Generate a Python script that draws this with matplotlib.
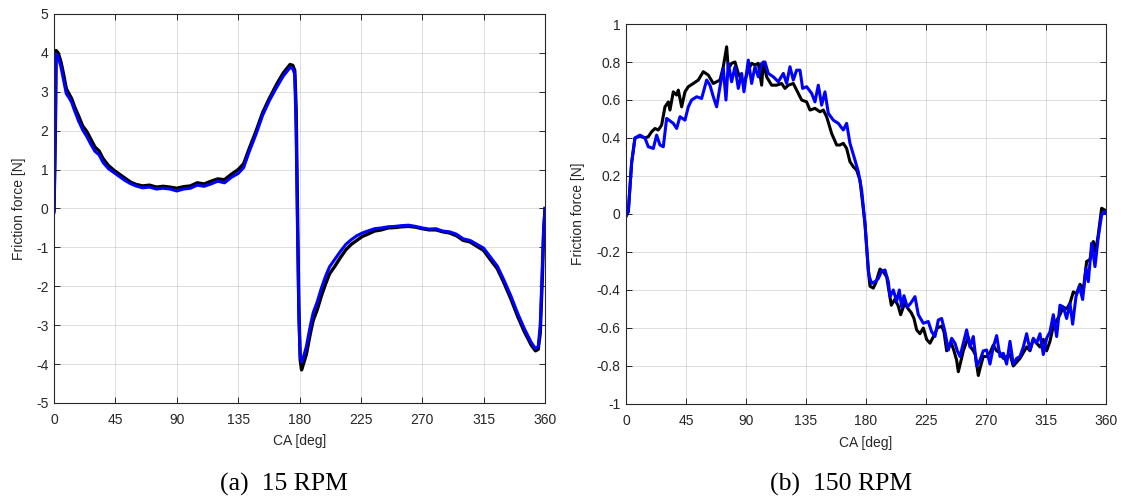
import numpy as np
import matplotlib
matplotlib.use("Agg")
import matplotlib.pyplot as plt

plt.rcParams["font.family"] = ["Liberation Sans", "DejaVu Sans"]
plt.rcParams["axes.unicode_minus"] = False

# ---- data: (crank angle [deg], friction force [N]) ----
blue_15 = np.array([
    (0, -0.1), (1, 2.0), (1.5, 3.97), (3, 3.9), (5, 3.65), (7, 3.3), (9, 2.95),
    (11, 2.85), (13, 2.72), (15, 2.52), (18, 2.25), (21, 2.02), (24, 1.85),
    (27, 1.65), (30, 1.47), (33, 1.38), (36, 1.18), (40, 1.02), (44, 0.92),
    (48, 0.82), (52, 0.72), (56, 0.64), (60, 0.58), (65, 0.53), (70, 0.55),
    (75, 0.5), (80, 0.52), (85, 0.5), (90, 0.45), (95, 0.5), (100, 0.52),
    (105, 0.6), (110, 0.57), (115, 0.63), (120, 0.7), (125, 0.66), (130, 0.8),
    (135, 0.9), (139, 1.05), (143, 1.45), (148, 1.9), (153, 2.4), (158, 2.78),
    (163, 3.1), (168, 3.4), (173, 3.62), (175, 3.6), (176.5, 3.45),
    (177.5, 2.0), (178.5, -0.5), (179.5, -2.8), (180.5, -3.8), (181.5, -3.95),
    (183, -3.8), (185, -3.55), (188, -3.0), (190, -2.68), (193, -2.4),
    (196, -2.05), (199, -1.75), (202, -1.5), (206, -1.3), (210, -1.1),
    (214, -0.92), (218, -0.8), (222, -0.7), (226, -0.63), (230, -0.58),
    (235, -0.52), (240, -0.5), (245, -0.47), (250, -0.46), (255, -0.44),
    (260, -0.43), (265, -0.46), (270, -0.5), (275, -0.53), (280, -0.52),
    (285, -0.58), (290, -0.6), (295, -0.66), (300, -0.78), (305, -0.82),
    (310, -0.92), (315, -1.02), (320, -1.25), (325, -1.48), (330, -1.85),
    (335, -2.25), (340, -2.7), (345, -3.1), (350, -3.45), (353, -3.6),
    (355, -3.55), (356.5, -3.0), (358, -1.5), (359, -0.5), (360, 0.0),
])

black_15 = np.array([
    (0, -0.05), (1, 2.1), (1.5, 4.06), (3, 4.0), (5, 3.78), (7, 3.45), (9, 3.08),
    (11, 2.95), (13, 2.82), (15, 2.62), (18, 2.38), (21, 2.12), (24, 1.98),
    (27, 1.78), (30, 1.58), (33, 1.48), (36, 1.28), (40, 1.1), (44, 0.98),
    (48, 0.88), (52, 0.78), (56, 0.68), (60, 0.62), (65, 0.58), (70, 0.6),
    (75, 0.55), (80, 0.57), (85, 0.55), (90, 0.52), (95, 0.56), (100, 0.58),
    (105, 0.66), (110, 0.63), (115, 0.7), (120, 0.76), (125, 0.74), (130, 0.88),
    (135, 1.0), (139, 1.15), (143, 1.53), (148, 1.98), (153, 2.47), (158, 2.84),
    (163, 3.18), (168, 3.48), (173, 3.7), (175, 3.68), (176.5, 3.55),
    (177.5, 2.6), (178.5, 0.0), (179.5, -2.5), (180.5, -3.9), (181.5, -4.15),
    (183, -3.98), (185, -3.75), (188, -3.2), (190, -2.88), (193, -2.6),
    (196, -2.25), (199, -1.95), (202, -1.68), (206, -1.48), (210, -1.26),
    (214, -1.06), (218, -0.92), (222, -0.82), (226, -0.72), (230, -0.66),
    (235, -0.58), (240, -0.55), (245, -0.5), (250, -0.49), (255, -0.47),
    (260, -0.46), (265, -0.48), (270, -0.52), (275, -0.55), (280, -0.55),
    (285, -0.6), (290, -0.63), (295, -0.7), (300, -0.82), (305, -0.86),
    (310, -0.97), (315, -1.08), (320, -1.32), (325, -1.55), (330, -1.92),
    (335, -2.33), (340, -2.78), (345, -3.18), (350, -3.52), (353, -3.66),
    (355, -3.62), (356.5, -3.2), (358, -1.8), (359, -0.6), (360, 0.0),
])

blue_150 = np.array([
    (0, -0.01), (1.75, 0.012), (4.25, 0.27), (6.75, 0.40), (10.5, 0.415),
    (14.25, 0.40), (16.75, 0.354), (20.5, 0.345), (23, 0.415), (25.5, 0.363),
    (28, 0.354), (30.5, 0.503), (35.5, 0.477), (38, 0.45), (40.5, 0.512),
    (44.25, 0.494), (46.75, 0.564), (49.25, 0.60), (53, 0.617), (56.75, 0.608),
    (60.5, 0.705), (63, 0.678), (65.5, 0.617), (68, 0.564), (70.5, 0.67),
    (73, 0.766), (75, 0.60), (76.75, 0.793), (79.25, 0.696), (81.75, 0.775),
    (84.25, 0.661), (86.75, 0.74), (88.5, 0.643), (91.75, 0.81), (94.25, 0.687),
    (96.75, 0.775), (99.25, 0.722), (101.75, 0.793), (104.25, 0.80),
    (106.75, 0.74), (110.5, 0.722), (114.25, 0.696), (118, 0.74),
    (120.5, 0.687), (123, 0.775), (125.5, 0.705), (128, 0.757), (130.5, 0.757),
    (132.5, 0.661), (135.5, 0.67), (139.25, 0.635), (141.75, 0.59),
    (144.25, 0.678), (146.75, 0.573), (149.25, 0.643), (151.75, 0.53),
    (155.5, 0.494), (159.25, 0.477), (163, 0.442), (165.5, 0.477), (168, 0.372),
    (171.75, 0.284), (174.25, 0.222), (176.75, 0.126), (179.25, -0.05),
    (181.75, -0.295), (182.5, -0.33), (184.25, -0.365), (186.75, -0.356),
    (189.25, -0.34), (191.75, -0.30), (194.25, -0.295), (196.75, -0.356),
    (198, -0.435), (200.5, -0.40), (203, -0.46), (205, -0.40), (206.75, -0.49),
    (208.5, -0.43), (211, -0.49), (213.5, -0.47), (216.75, -0.435),
    (219.25, -0.53), (223, -0.575), (226.75, -0.566), (229.25, -0.62),
    (231.75, -0.645), (234.25, -0.558), (236.75, -0.55), (239.25, -0.62),
    (241.75, -0.716), (244.25, -0.654), (246.75, -0.68), (248.5, -0.72),
    (250.5, -0.75), (253, -0.68), (255.5, -0.61), (258, -0.70), (260.5, -0.645),
    (263, -0.80), (265.5, -0.77), (268, -0.72), (270.5, -0.716), (273, -0.79),
    (275.5, -0.70), (278, -0.64), (280.5, -0.75), (283, -0.733), (285.5, -0.79),
    (288, -0.67), (290.5, -0.79), (293, -0.76), (295.5, -0.75), (298, -0.70),
    (300.5, -0.63), (303, -0.716), (305.5, -0.654), (308, -0.68),
    (310.5, -0.63), (313, -0.74), (315.5, -0.654), (318, -0.62), (320.5, -0.53),
    (323, -0.645), (325.5, -0.48), (328, -0.49), (330.5, -0.55), (333, -0.47),
    (335, -0.58), (337.5, -0.435), (340, -0.38), (342.5, -0.45), (345, -0.285),
    (346.75, -0.356), (349.25, -0.154), (351.75, -0.277), (354.25, -0.12),
    (356.75, -0.005), (359.25, 0.013), (360, 0.004),
])

black_150 = np.array([
    (0, -0.014), (1.75, 0.012), (4.25, 0.27), (6.75, 0.40), (10.5, 0.41),
    (14.25, 0.40), (16.75, 0.407), (19.25, 0.433), (21.75, 0.45),
    (24.25, 0.442), (26.75, 0.468), (29.25, 0.564), (31.75, 0.59), (33, 0.547),
    (35.5, 0.643), (38, 0.626), (39.25, 0.652), (41.75, 0.564), (44.25, 0.643),
    (46.75, 0.67), (50.5, 0.687), (54.25, 0.705), (58, 0.749), (61.75, 0.731),
    (65.5, 0.687), (68, 0.696), (70.5, 0.705), (73, 0.775), (75.5, 0.88),
    (76.75, 0.766), (79.25, 0.793), (81.75, 0.80), (84.25, 0.74),
    (86.75, 0.705), (89.25, 0.705), (91.75, 0.757), (94.25, 0.793),
    (96.75, 0.784), (99.25, 0.793), (101.75, 0.678), (103, 0.80),
    (105.5, 0.722), (109.25, 0.678), (113, 0.678), (116.75, 0.687),
    (119.25, 0.661), (121.75, 0.678), (125.5, 0.687), (129.25, 0.635),
    (131.75, 0.60), (135.5, 0.59), (138, 0.547), (141.75, 0.556),
    (145.5, 0.538), (148, 0.547), (150.5, 0.512), (154.25, 0.424),
    (158, 0.363), (160.5, 0.363), (163, 0.372), (165.5, 0.345), (168, 0.275),
    (170.5, 0.249), (173, 0.231), (175.5, 0.178), (179.25, -0.05),
    (181.75, -0.295), (183, -0.38), (185.5, -0.39), (187.5, -0.36),
    (190.5, -0.29), (192.5, -0.3), (195.5, -0.33), (199, -0.48), (201.5, -0.45),
    (204, -0.48), (206, -0.53), (209, -0.47), (211.75, -0.5), (214, -0.52),
    (216, -0.55), (218, -0.61), (220.5, -0.63), (223, -0.6), (225.5, -0.66),
    (228, -0.68), (231, -0.64), (233.5, -0.6), (236.75, -0.59), (238.5, -0.62),
    (240.5, -0.72), (242, -0.7), (244, -0.68), (246, -0.72), (248, -0.77),
    (249.25, -0.83), (251, -0.78), (253, -0.72), (254.5, -0.69),
    (256.75, -0.65), (258.5, -0.7), (260.5, -0.72), (262, -0.74),
    (264.25, -0.85), (266, -0.8), (268, -0.75), (270.5, -0.75), (273, -0.73),
    (275.5, -0.69), (278, -0.72), (280.5, -0.73), (283, -0.76), (285.5, -0.75),
    (288, -0.74), (290.5, -0.80), (293, -0.78), (295.5, -0.76), (298, -0.73),
    (300.5, -0.7), (303, -0.72), (305.5, -0.66), (308, -0.68), (310.5, -0.7),
    (313, -0.66), (315.5, -0.72), (318, -0.67), (320.5, -0.59), (323, -0.56),
    (325.5, -0.53), (328, -0.49), (330.5, -0.5), (333, -0.47), (335.5, -0.41),
    (338, -0.42), (340.5, -0.37), (343, -0.4), (345.5, -0.25), (348, -0.24),
    (350.5, -0.145), (352, -0.2), (354, -0.12), (356.75, 0.03), (359.25, 0.02),
    (360, 0.01),
])

x_ticks = [0, 45, 90, 135, 180, 225, 270, 315, 360]
y_ticks_15 = [5, 4, 3, 2, 1, 0, -1, -2, -3, -4, -5]
y_ticks_150 = [1, 0.8, 0.6, 0.4, 0.2, 0, -0.2, -0.4, -0.6, -0.8, -1]
captions = ["(a)  15 RPM", "(b)  150 RPM"]

GREY = "#262626"


def style_axes(ax, yticks, xlab_y, ylab_x):
    ax.set_xlim(0, 360)
    ax.set_xticks(x_ticks)
    ax.set_ylim(min(yticks), max(yticks))
    ax.set_yticks(yticks)
    ax.set_yticklabels(["%g" % v for v in yticks])
    ax.grid(True, color=GREY, alpha=0.15, linewidth=0.7)
    ax.set_axisbelow(True)
    ax.tick_params(direction="in", top=True, right=True, length=4, width=0.7,
                   colors=GREY, labelsize=10)
    ax.tick_params(axis="x", pad=7)
    ax.tick_params(axis="y", pad=4)
    for s in ax.spines.values():
        s.set_color(GREY)
        s.set_linewidth(0.8)
    ax.set_xlabel("CA [deg]", fontsize=10, color=GREY)
    ax.set_ylabel("Friction force [N]", fontsize=10, color=GREY)
    ax.xaxis.set_label_coords(0.5, xlab_y)
    ax.yaxis.set_label_coords(ylab_x, 0.5)


fig = plt.figure(figsize=(11.21, 4.99), dpi=100)

ax1 = fig.add_axes([0.0482, 0.1924, 0.438, 0.7796])
ax1.plot(black_15[:, 0], black_15[:, 1], color="black", lw=2.4)
ax1.plot(blue_15[:, 0], blue_15[:, 1], color="blue", lw=2.2)
style_axes(ax1, y_ticks_15, -0.08, -0.058)

ax2 = fig.add_axes([0.5584, 0.1904, 0.4282, 0.7615])
ax2.plot(black_150[:, 0], black_150[:, 1], color="black", lw=2.2)
ax2.plot(blue_150[:, 0], blue_150[:, 1], color="blue", lw=2.2)
style_axes(ax2, y_ticks_150, -0.084, -0.086)

fig.text(0.253, 0.03, captions[0], ha="center", va="center",
         fontsize=18.5, family=["Liberation Serif", "DejaVu Serif"])
fig.text(0.750, 0.03, captions[1], ha="center", va="center",
         fontsize=18.5, family=["Liberation Serif", "DejaVu Serif"])

fig.savefig("out.png", dpi=100)
